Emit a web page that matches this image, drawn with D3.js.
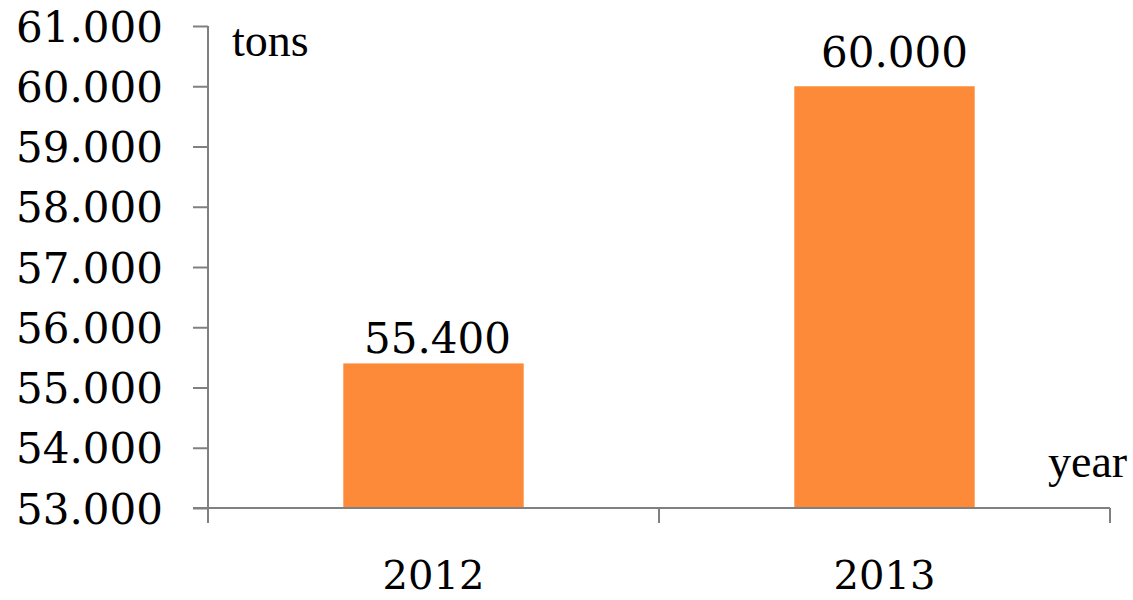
<!DOCTYPE html>
<html>
<head>
<meta charset="utf-8">
<script src="https://cdn.jsdelivr.net/npm/d3@7"></script>
<style>
  html, body { margin: 0; padding: 0; background: #ffffff; }
  svg { display: block; }
</style>
</head>
<body>
<svg id="chart" width="1133" height="600"></svg>
<script>
// ---- data ----
const categories = ["2012", "2013"];
const values = [55400, 60000];
const yTicks = [53000, 54000, 55000, 56000, 57000, 58000, 59000, 60000, 61000];
const yUnitLabel = "tons";
const xUnitLabel = "year";

// ---- layout / style ----
const numFont = "'DejaVu Serif', serif";
const wordFont = "'Liberation Serif', 'Times New Roman', serif";
const axisColor = "#808080";
const barColor = "#fd8a38";
const plotLeft = 208, plotRight = 1110, plotTop = 26, plotBottom = 508;

const loc = d3.formatLocale({ decimal: ",", thousands: ".", grouping: [3], currency: ["", ""] });
const fmt = loc.format(",d");

const svg = d3.select("#chart");

const x = d3.scaleBand().domain(categories).range([plotLeft, plotRight])
  .paddingInner(0.6).paddingOuter(0.3);
const y = d3.scaleLinear().domain([53000, 61000]).range([plotBottom, plotTop]);

// bars
svg.append("g").selectAll("rect").data(values).join("rect")
  .attr("x", (d, i) => x(categories[i]))
  .attr("y", d => y(d))
  .attr("width", x.bandwidth())
  .attr("height", d => y(53000) - y(d))
  .attr("fill", barColor);

// y axis
const yAxis = d3.axisLeft(y).tickValues(yTicks).tickFormat(fmt).tickSize(15).tickPadding(30);
const gy = svg.append("g").attr("transform", `translate(${plotLeft},0)`).call(yAxis);
gy.select(".domain").remove();
gy.append("line").attr("x1", 0).attr("x2", 0).attr("y1", plotTop).attr("y2", plotBottom + 15)
  .attr("stroke", axisColor).attr("stroke-width", 2);
gy.selectAll(".tick line").attr("stroke", axisColor).attr("stroke-width", 2);
gy.selectAll(".tick text")
  .attr("font-family", numFont).attr("font-size", 42).attr("fill", "#000")
  .attr("dy", "0.36em");

// x axis
const xAxisScale = d3.scalePoint().domain([0, 1, 2]).range([plotLeft, plotRight]);
const gx = svg.append("g");
gx.append("line").attr("x1", plotLeft - 15).attr("x2", plotRight).attr("y1", plotBottom).attr("y2", plotBottom)
  .attr("stroke", axisColor).attr("stroke-width", 2);
gx.selectAll("line.xt").data(xAxisScale.domain()).join("line").attr("class", "xt")
  .attr("x1", d => xAxisScale(d)).attr("x2", d => xAxisScale(d))
  .attr("y1", plotBottom).attr("y2", plotBottom + 15)
  .attr("stroke", axisColor).attr("stroke-width", 2);

// category labels
svg.append("g").selectAll("text").data(categories).join("text")
  .attr("x", d => x(d) + x.bandwidth() / 2)
  .attr("y", 589)
  .attr("text-anchor", "middle")
  .attr("font-family", numFont).attr("font-size", 40).attr("fill", "#000")
  .text(d => d);

// value labels
const labelNudge = [{ dx: 4, dy: -10 }, { dx: 10, dy: -19 }];
svg.append("g").selectAll("text").data(values).join("text")
  .attr("x", (d, i) => x(categories[i]) + x.bandwidth() / 2 + labelNudge[i].dx)
  .attr("y", (d, i) => y(d) + labelNudge[i].dy)
  .attr("text-anchor", "middle")
  .attr("font-family", numFont).attr("font-size", 42).attr("fill", "#000")
  .text(d => fmt(d));

// unit labels
svg.append("text").attr("x", 232).attr("y", 56)
  .attr("font-family", wordFont).attr("font-size", 46).attr("fill", "#000")
  .text(yUnitLabel);
svg.append("text").attr("x", 1048).attr("y", 477)
  .attr("font-family", wordFont).attr("font-size", 46).attr("fill", "#000")
  .text(xUnitLabel);
</script>
</body>
</html>
